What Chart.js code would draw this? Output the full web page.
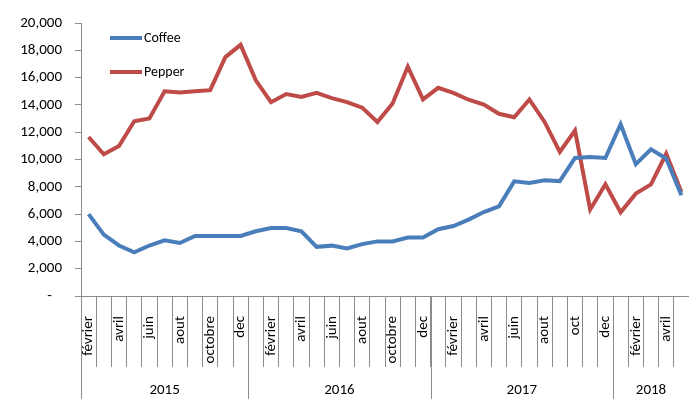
<!DOCTYPE html>
<html>
<head>
<meta charset="utf-8">
<script src="https://cdn.jsdelivr.net/npm/chart.js@4.4.1/dist/chart.umd.min.js"></script>
<style>
  html, body { margin: 0; padding: 0; background: #ffffff; }
  #wrap { width: 689px; height: 399px; position: relative; }
</style>
</head>
<body>
<div id="wrap"><canvas id="c" width="689" height="399"></canvas></div>
<script>
// ---- data ----
const months = [
  'février','mars','avril','mai','juin','juillet','aout','septembre','octobre','novembre','dec',
  'janvier','février','mars','avril','mai','juin','juillet','aout','septembre','octobre','novembre','dec',
  'janvier','février','mars','avril','mai','juin','juillet','aout','septembre','oct','novembre','dec',
  'janvier','février','mars','avril','mai'
];
const yearLabels = ['2015', '2016', '2017', '2018'];
const yearSpans = [11, 12, 12, 5];
const coffee = [
  6000, 4500, 3700, 3200, 3700, 4080, 3880, 4400, 4400, 4400, 4400,
  4740, 4980, 4980, 4740, 3600, 3690, 3480, 3800, 4000, 4000, 4280, 4280,
  4890, 5130, 5600, 6150, 6570, 8400, 8280, 8480, 8420, 10110, 10180, 10110,
  12580, 9650, 10750, 10070, 7380
];
const pepper = [
  11650, 10380, 10990, 12800, 13000, 15000, 14900, 15000, 15080, 17500, 18400,
  15800, 14200, 14800, 14580, 14880, 14500, 14200, 13800, 12750, 14100, 16800, 14400,
  15250, 14880, 14380, 14030, 13350, 13100, 14400, 12750, 10560, 12120, 6330,
  8180, 6130, 7500, 8180, 10420, 7620
];
const yTicks = [0, 2000, 4000, 6000, 8000, 10000, 12000, 14000, 16000, 18000, 20000];

const FONT = 'Carlito, Calibri, Lato, "Open Sans", sans-serif';
const AXIS_GRAY = '#8c8c8c';

const decorPlugin = {
  id: 'decor',
  afterDraw(chart) {
    const ctx = chart.ctx;
    const xs = chart.scales.x;
    const step = (xs.getPixelForValue(1) - xs.getPixelForValue(0));
    const edge = (i) => xs.getPixelForValue(i) - step / 2;
    const yTop = chart.chartArea.bottom;
    const yBot = chart.height;
    ctx.save();
    ctx.strokeStyle = AXIS_GRAY;
    ctx.lineWidth = 1;
    let idx = 0;
    const bounds = [0];
    yearSpans.forEach(s => { idx += s; bounds.push(idx); });
    bounds.forEach(b => {
      const x = Math.round(edge(b)) + 0.5;
      ctx.beginPath();
      ctx.moveTo(x, yTop);
      ctx.lineTo(x, yBot);
      ctx.stroke();
    });
    ctx.fillStyle = '#000';
    ctx.font = '15px ' + FONT;
    ctx.textAlign = 'center';
    ctx.textBaseline = 'middle';
    for (let k = 0; k < yearLabels.length; k++) {
      const cx = (edge(bounds[k]) + edge(bounds[k + 1])) / 2;
      ctx.fillText(yearLabels[k], cx, 390);
    }
    chart.data.datasets.forEach((ds, i) => {
      const y = 38 + i * 34;
      ctx.strokeStyle = ds.borderColor;
      ctx.lineWidth = 4;
      ctx.beginPath();
      ctx.moveTo(110, y);
      ctx.lineTo(142, y);
      ctx.stroke();
      ctx.fillStyle = '#000';
      ctx.textAlign = 'left';
      ctx.font = '14px ' + FONT;
      ctx.fillText(ds.label, 144, y);
    });
    ctx.restore();
  }
};

new Chart(document.getElementById('c'), {
  type: 'line',
  data: {
    labels: months,
    datasets: [
      { label: 'Coffee', data: coffee, borderColor: '#4a7ebb', backgroundColor: '#4a7ebb',
        borderWidth: 4, pointRadius: 0, tension: 0 },
      { label: 'Pepper', data: pepper, borderColor: '#be4b48', backgroundColor: '#be4b48',
        borderWidth: 4, pointRadius: 0, tension: 0 }
    ]
  },
  options: {
    responsive: false,
    animation: false,
    layout: { padding: { top: 23, right: 0, left: 0, bottom: 0 } },
    plugins: { legend: { display: false }, tooltip: { enabled: false } },
    scales: {
      x: {
        type: 'category',
        offset: true,
        afterFit(scale) { scale.height = 103; },
        grid: { offset: true, drawOnChartArea: false, drawTicks: true, tickLength: 71, color: AXIS_GRAY },
        border: { display: true, color: AXIS_GRAY },
        ticks: {
          autoSkip: false,
          maxRotation: 90,
          minRotation: 90,
          padding: -51,
          color: '#000',
          font: { family: FONT, size: 15 },
          callback(value, index) { return index % 2 === 0 ? months[index] : ''; }
        }
      },
      y: {
        min: 0,
        max: 20000,
        afterFit(scale) { scale.width = 81; },
        afterBuildTicks(scale) { scale.ticks = yTicks.map(v => ({ value: v })); },
        grid: { drawOnChartArea: false, drawTicks: true, tickLength: 6, color: AXIS_GRAY },
        border: { display: true, color: AXIS_GRAY },
        ticks: {
          padding: 13,
          color: '#000',
          font: { family: FONT, size: 15 },
          callback(v) { return v === 0 ? '-   ' : v.toLocaleString('en-US'); }
        }
      }
    }
  },
  plugins: [decorPlugin]
});
</script>
</body>
</html>
